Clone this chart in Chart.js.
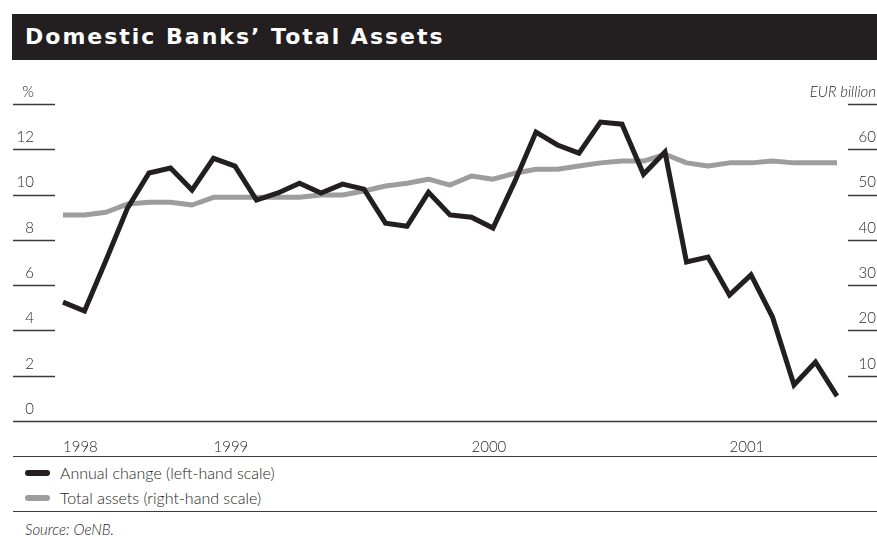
<!DOCTYPE html>
<html>
<head>
<meta charset="utf-8">
<title>Domestic Banks' Total Assets</title>
<script src="https://cdn.jsdelivr.net/npm/chart.js@4.4.1/dist/chart.umd.min.js"></script>
<style>
  body { margin: 0; width: 877px; height: 536px; background: #fff; position: relative; overflow: hidden;
         font-family: Lato, "Open Sans", sans-serif; color: #231f20; }
  #title { position: absolute; left: 12px; top: 14px; width: 865px; height: 46px; background: #231f20;
           color: #fff; font: bold 22px "DejaVu Sans", sans-serif; letter-spacing: 2px;
           line-height: 46px; padding-left: 13px; box-sizing: border-box; }
  #chartBox { position: absolute; left: 0; top: 70px; width: 877px; height: 390px; }
  .rule { position: absolute; left: 13px; right: 0; border-top: 1.5px solid #3a3a3a; }
  #legend { position: absolute; left: 25px; top: 460px; font-size: 16px; font-weight: 300; }
  .item { display: flex; align-items: center; height: 25px; }
  .swatch { width: 25px; height: 6px; border-radius: 3px; margin-right: 10px; }
  #source { position: absolute; left: 25px; top: 520px; font-size: 15px; font-style: italic; font-weight: 300; }
</style>
</head>
<body>
<div id="title">Domestic Banks’ Total Assets</div>
<div id="chartBox"><canvas id="assetsChart" width="877" height="390"></canvas></div>
<div class="rule" style="top:456px"></div>
<div id="legend"></div>
<div class="rule" style="top:511px"></div>
<div id="source">Source: OeNB.</div>

<script>
// monthly observations, June 1998 to June 2001
const months = [
  '1998-06', '1998-07', '1998-08', '1998-09', '1998-10', '1998-11', '1998-12',
  '1999-01', '1999-02', '1999-03', '1999-04', '1999-05', '1999-06', '1999-07',
  '1999-08', '1999-09', '1999-10', '1999-11', '1999-12',
  '2000-01', '2000-02', '2000-03', '2000-04', '2000-05', '2000-06', '2000-07',
  '2000-08', '2000-09', '2000-10', '2000-11', '2000-12',
  '2001-01', '2001-02', '2001-03', '2001-04', '2001-05', '2001-06'
];

// annual change in %, left-hand scale
const annualChange = [
  5.25, 4.86, 7.1, 9.4, 10.95, 11.17, 10.2,
  11.6, 11.26, 9.76, 10.07, 10.5, 10.07, 10.46,
  10.24, 8.74, 8.6, 10.1, 9.1,
  9.0, 8.52, 10.55, 12.76, 12.19, 11.83, 13.2,
  13.11, 10.9, 11.88, 7.02, 7.24,
  5.56, 6.45, 4.59, 1.59, 2.6, 1.1
];

// total assets in EUR billion, right-hand scale
const totalAssets = [
  45.5, 45.5, 46.1, 47.9, 48.3, 48.3, 47.7,
  49.4, 49.4, 49.4, 49.4, 49.4, 49.9, 49.9,
  50.8, 51.9, 52.5, 53.4, 52.1,
  54.1, 53.4, 54.7, 55.6, 55.6, 56.3, 57.0,
  57.4, 57.4, 58.9, 57.0, 56.3,
  57.0, 57.0, 57.4, 57.0, 57.0, 57.0
];

const seriesLabels = ['Annual change (left-hand scale)', 'Total assets (right-hand scale)'];
const seriesColors = ['#231f20', '#9d9d9d'];

const ink = '#231f20';
const tickFont = { family: 'Lato, "Open Sans", sans-serif', size: 15, weight: 300 };

// short rules under each axis label and the full-width base line
const axisRules = {
  id: 'axisRules',
  afterDraw(chart) {
    const ctx = chart.ctx;
    const left = chart.scales.y;
    const right = chart.scales.y2;
    ctx.save();
    ctx.strokeStyle = '#3a3a3a';
    ctx.lineWidth = 1.5;
    left.ticks.forEach(t => {
      if (t.value === 0) return;
      const y = Math.round(left.getPixelForValue(t.value)) + 0.5;
      ctx.beginPath(); ctx.moveTo(13, y); ctx.lineTo(55, y); ctx.stroke();
    });
    right.ticks.forEach(t => {
      if (t.value === 0) return;
      const y = Math.round(right.getPixelForValue(t.value)) + 0.5;
      ctx.beginPath(); ctx.moveTo(848, y); ctx.lineTo(chart.width, y); ctx.stroke();
    });
    const base = Math.round(left.getPixelForValue(0)) + 0.5;
    ctx.beginPath(); ctx.moveTo(13, base); ctx.lineTo(chart.width, base); ctx.stroke();
    ctx.restore();
  }
};

const chart = new Chart(document.getElementById('assetsChart'), {
  type: 'line',
  data: {
    labels: months,
    datasets: [
      {
        label: seriesLabels[0],
        data: annualChange,
        yAxisID: 'y',
        borderColor: seriesColors[0],
        backgroundColor: seriesColors[0],
        borderWidth: 5,
        borderJoinStyle: 'miter',
        pointRadius: 0,
        tension: 0
      },
      {
        label: seriesLabels[1],
        data: totalAssets,
        yAxisID: 'y2',
        borderColor: seriesColors[1],
        backgroundColor: seriesColors[1],
        borderWidth: 5,
        borderJoinStyle: 'round',
        pointRadius: 0,
        tension: 0
      }
    ]
  },
  options: {
    responsive: false,
    animation: false,
    devicePixelRatio: 1,
    layout: { padding: { top: 34, bottom: 3, left: 0, right: 0 } },
    plugins: {
      legend: { display: false },
      tooltip: { enabled: false }
    },
    scales: {
      x: {
        grid: { display: false },
        border: { display: false },
        ticks: {
          autoSkip: false,
          maxRotation: 0,
          align: 'start',
          padding: 9,
          color: ink,
          font: tickFont,
          callback(value, index) {
            const m = months[index];
            return index === 0 || m.endsWith('-01') ? m.slice(0, 4) : '';
          }
        },
        afterFit(scale) {
          scale.height = 36;
          scale.paddingLeft = 0;
          scale.paddingRight = 0;
        }
      },
      y: {
        position: 'left',
        min: 0,
        max: 14,
        grid: { display: false },
        border: { display: false },
        ticks: {
          stepSize: 2,
          padding: 21,
          labelOffset: -12,
          color: ink,
          font: tickFont,
          callback: v => (v === 14 ? '%' : v)
        },
        afterFit(scale) {
          scale.width = 63;
          scale.paddingTop = 0;
          scale.paddingBottom = 0;
        }
      },
      y2: {
        position: 'right',
        min: 0,
        max: 70,
        grid: { display: false },
        border: { display: false },
        ticks: {
          stepSize: 10,
          // mirrored so the wide unit label is not clipped to the axis box
          mirror: true,
          padding: 39,
          labelOffset: -12,
          color: ink,
          font: ctx => ({ ...tickFont, style: ctx.tick && ctx.tick.value === 70 ? 'italic' : 'normal' }),
          callback: v => (v === 70 ? 'EUR billion' : v === 0 ? '' : v)
        },
        afterFit(scale) {
          scale.width = 40;
          scale.paddingTop = 0;
          scale.paddingBottom = 0;
        }
      }
    }
  },
  plugins: [axisRules]
});

// legend built from the datasets
const legendBox = document.getElementById('legend');
chart.data.datasets.forEach(ds => {
  const item = document.createElement('div');
  item.className = 'item';
  item.innerHTML = `<span class="swatch" style="background:${ds.borderColor}"></span><span>${ds.label}</span>`;
  legendBox.appendChild(item);
});
</script>
</body>
</html>
